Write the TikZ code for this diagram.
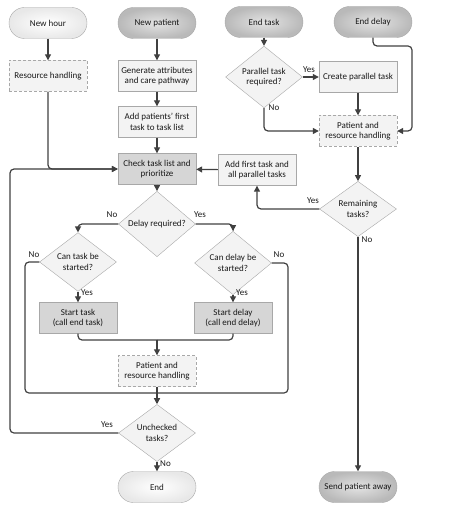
\documentclass[tikz,border=0pt]{standalone}
\usepackage{fontspec}
\setmainfont{Carlito}
\usetikzlibrary{shapes.geometric,arrows.meta}
\definecolor{ln}{HTML}{404040}
\definecolor{bd}{HTML}{A8A8A8}
\definecolor{lf}{HTML}{F3F3F3}
\definecolor{gf}{HTML}{D6D6D6}
\tikzset{
  base/.style={font=\fontsize{9}{10.5}\selectfont, align=center, text=black!90, inner sep=1pt},
  stad/.style={base, rectangle, rounded corners=15.5pt, minimum width=78pt, minimum height=31pt, draw=bd},
  wstad/.style={stad, inner color=white, outer color=gray!18},
  gstad/.style={stad, inner color=gray!22, outer color=gray!55},
  box/.style={base, rectangle, draw=bd, fill=lf, minimum width=78pt, minimum height=31pt},
  dbox/.style={box, densely dashed},
  gbox/.style={box, fill=gf},
  dia/.style={base, diamond, draw=bd, fill=lf, minimum width=77pt, minimum height=45pt, inner sep=0pt},
  ln/.style={draw=ln, line width=1.2pt, rounded corners=4pt},
  arr/.style={ln, -{Triangle[length=6pt,width=6pt]}},
  lbl/.style={font=\fontsize{9}{10.5}\selectfont, text=black!90, inner sep=0pt}
}
\begin{document}
\begin{tikzpicture}[x=1pt,y=-1pt]
\useasboundingbox (0,0) rectangle (474,518);
% terminals
\node[wstad] (nh) at (48,23) {New hour};
\node[gstad] (np) at (157,23) {New patient};
\node[gstad] (et) at (264,22) {End task};
\node[gstad] (ed) at (373,22) {End delay};
% boxes
\node[dbox] (rh) at (48,76) {Resource handling};
\node[box] (ga) at (157,76) {Generate attributes\\and care pathway};
\node[box] (ap) at (157,122) {Add patients' first\\task to task list};
\node[gbox] (ck) at (157,169) {Check task list and\\prioritize};
\node[box] (af) at (257,170) {Add first task and\\all parallel tasks};
\node[dia] (pt) at (264,77) {Parallel task\\required?};
\node[box] (cp) at (358,77) {Create parallel task};
\node[dbox] (pr) at (358,131) {Patient and\\resource handling};
\node[dia] (rt) at (358,209) {Remaining\\tasks?};
\node[dia] (dr) at (157,224) {Delay required?};
\node[dia] (ct) at (78,262) {Can task be\\started?};
\node[dia] (cd) at (233,263) {Can delay be\\started?};
\node[gbox] (st) at (78,318) {Start task\\(call end task)};
\node[gbox] (sd) at (233,318) {Start delay\\(call end delay)};
\node[dbox] (pc) at (157,371) {Patient and\\resource handling};
\node[dia] (ut) at (157,433) {Unchecked\\tasks?};
\node[wstad] (en) at (157,487) {End};
\node[gstad] (sp) at (358,487) {Send patient away};
% left column
\draw[arr] (nh) -- (rh);
\draw[arr] (rh.south) |- (ck.west);
\draw[arr] (ut.west) -| (10,300) |- (ck.west);
\node[lbl] at (107,425) {Yes};
% middle column
\draw[arr] (np) -- (ga);
\draw[arr] (ga) -- (ap);
\draw[arr] (ap) -- (ck);
\draw[arr] (ck) -- (dr);
\draw[arr] (dr.west) -| (ct.north);
\node[lbl] at (112,215) {No};
\draw[arr] (dr.east) -| (cd.north);
\node[lbl] at (200,215) {Yes};
\draw[arr] (ct) -- (st);
\node[lbl, anchor=west] at (81,293) {Yes};
\draw[arr] (cd) -- (sd);
\node[lbl, anchor=west] at (236,293) {Yes};
\coordinate (mj) at (157,340);
\draw[ln] (st.south) |- (mj);
\draw[ln] (sd.south) |- (mj);
\draw[arr] (mj) -- (pc.north);
\draw[ln] (ct.west) -| (25,393) -| (288,330) |- (cd.east);
\node[lbl] at (34,255) {No};
\node[lbl] at (279,255) {No};
\draw[arr] (pc.south) -- (ut.north);
\draw[arr] (ut) -- (en);
\node[lbl, anchor=west] at (160,464) {No};
% right part
\draw[arr] (et) -- (pt);
\draw[arr] (pt) -- (cp);
\node[lbl] at (309,70) {Yes};
\draw[arr] (pt.south) |- (pr.west);
\node[lbl] at (274,108) {No};
\draw[arr] (cp) -- (pr);
\draw[arr] (ed.south) |- (412,46) |- (pr.east);
\draw[arr] (pr) -- (rt);
\draw[arr] (rt.west) -| (af.south);
\node[lbl] at (313,201) {Yes};
\draw[arr] (af) -- (ck);
\draw[arr] (rt) -- (sp);
\node[lbl] at (367,240) {No};
\end{tikzpicture}
\end{document}
